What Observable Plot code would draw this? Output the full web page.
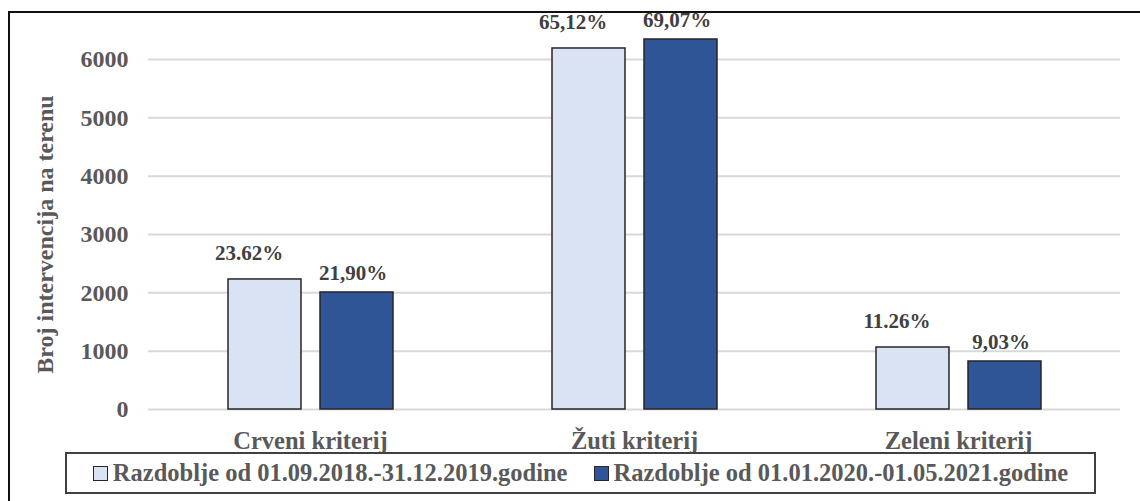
<!DOCTYPE html>
<html>
<head>
<meta charset="utf-8">
<script src="https://cdn.jsdelivr.net/npm/d3@7"></script>
<script src="https://cdn.jsdelivr.net/npm/@observablehq/plot@0.6"></script>
<style>
  html, body { margin: 0; padding: 0; background: #fff; width: 1140px; height: 501px; overflow: hidden; }
  body { position: relative; font-family: "Liberation Serif", "Times New Roman", serif; }
  #frame { position: absolute; left: 8px; top: 11px; width: 1200px; height: 600px; border: 2px solid #111; box-sizing: border-box; }
  #chart { position: absolute; left: 0; top: 0; }
  #legend { position: absolute; left: 65px; top: 452px; width: 1031px; height: 42px; border: 2px solid #404040; box-sizing: border-box;
            display: flex; align-items: center; justify-content: center; gap: 26px; background: #fff;
            font-weight: bold; font-size: 24.5px; color: #595959; white-space: nowrap; }
  .item { display: flex; align-items: center; gap: 5px; }
  .sw { width: 13px; height: 13px; border: 1.5px solid #262626; display: inline-block; }
</style>
</head>
<body>
<div id="frame"></div>
<div id="chart"></div>
<div id="legend"></div>
<script>
const categories = ["Crveni kriterij", "Žuti kriterij", "Zeleni kriterij"];
const seriesNames = ["Razdoblje od 01.09.2018.-31.12.2019.godine", "Razdoblje od 01.01.2020.-01.05.2021.godine"];
const values2018 = [2229, 6189, 1063];
const values2020 = [2006, 6343, 823];
const labels2018 = ["23.62%", "65,12%", "11.26%"];
const labels2020 = ["21,90%", "69,07%", "9,03%"];
const yTicks = [0, 1000, 2000, 3000, 4000, 5000, 6000];
const yTitle = "Broj intervencija na terenu";
const colors = ["#DAE3F3", "#2F5597"];

const rows = [];
categories.forEach((c, i) => {
  rows.push({category: c, series: seriesNames[0], value: values2018[i], label: labels2018[i]});
  rows.push({category: c, series: seriesNames[1], value: values2020[i], label: labels2020[i]});
});

const labelStyle = {fontSize: 21, fontWeight: "bold", fill: "#404040", lineAnchor: "bottom"};

const chart = Plot.plot({
  width: 1140,
  height: 455,
  marginLeft: 147,
  marginRight: 20,
  marginTop: 59,
  marginBottom: 46,
  style: {fontFamily: "'Liberation Serif', 'Times New Roman', serif", background: "transparent", overflow: "visible"},
  fx: {domain: categories, padding: 0, label: null},
  x: {domain: seriesNames, paddingInner: 0.211, paddingOuter: 0.8585, axis: null},
  y: {domain: [0, 6000]},
  color: {domain: seriesNames, range: colors},
  marks: [
    Plot.gridY(yTicks, {stroke: "#d9d9d9", strokeOpacity: 1, strokeWidth: 2}),
    Plot.axisY(yTicks, {tickSize: 0, tickPadding: 20, fontSize: 24, fontWeight: "bold", fill: "#595959",
      label: yTitle, labelArrow: "none", labelAnchor: "center", labelOffset: 113, tickFormat: d => String(d)}),
    Plot.axisFx({anchor: "bottom", tickSize: 0, tickPadding: 22, fontSize: 24.5, fontWeight: "bold", fill: "#595959", label: null}),
    Plot.barY(rows, {fx: "category", x: "series", y: "value", fill: "series", stroke: "#262626", strokeWidth: 1.5}),
    Plot.text(rows.filter(d => d.series === seriesNames[0]), {fx: "category", x: "series", y: "value", text: "label", dx: -16, dy: -19, ...labelStyle}),
    Plot.text(rows.filter(d => d.series === seriesNames[1]), {fx: "category", x: "series", y: "value", text: "label", dx: -4, dy: -12, ...labelStyle})
  ]
});
document.getElementById("chart").appendChild(chart);

const legend = document.getElementById("legend");
seriesNames.forEach((s, i) => {
  const item = document.createElement("div");
  item.className = "item";
  const sw = document.createElement("span");
  sw.className = "sw";
  sw.style.background = colors[i];
  const t = document.createElement("span");
  t.textContent = s;
  item.appendChild(sw);
  item.appendChild(t);
  legend.appendChild(item);
});
</script>
</body>
</html>
